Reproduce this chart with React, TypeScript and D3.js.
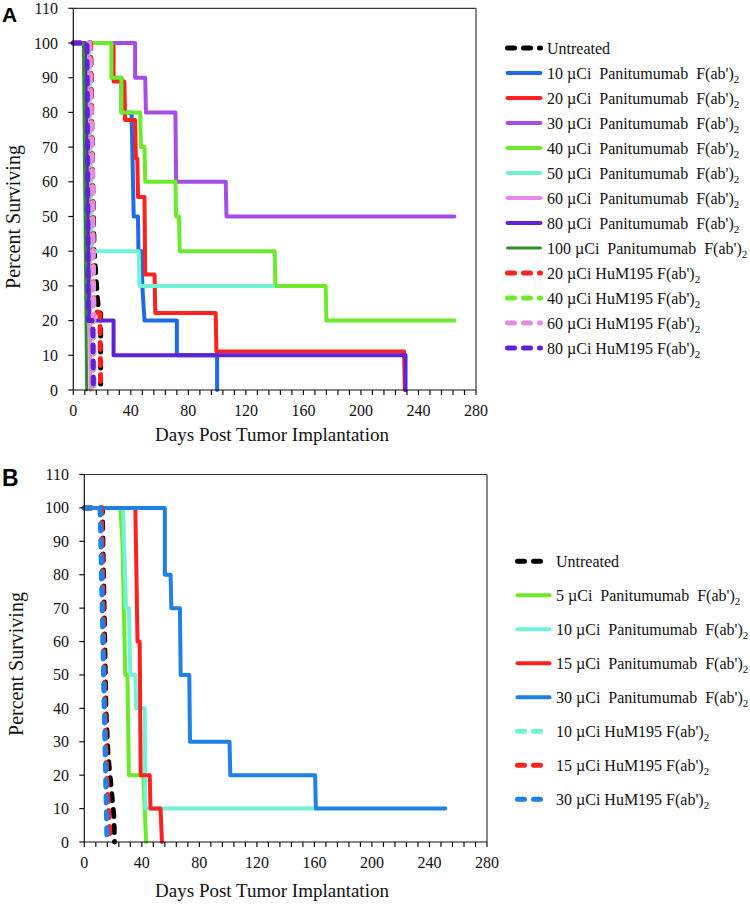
import React from "react";
import * as d3 from "d3";

type Pt = [number, number];

// ---------- shared axis values ----------
const xTickValues = [0, 40, 80, 120, 160, 200, 240, 280];
const xMinorTicks = d3.range(0, 281, 8);
const yTickValues = [0, 10, 20, 30, 40, 50, 60, 70, 80, 90, 100, 110];

// ---------- Panel A data: [day, percent surviving] vertices ----------
const aUntreated: Pt[] = [[0, 100], [12, 100], [13.5, 60], [14.5, 40], [16.5, 28], [17.5, 23], [19, 22], [19, 0]];
const aPan10: Pt[] = [[0, 100], [27.5, 100], [27.5, 90], [33.5, 90], [33.5, 80], [40.5, 80], [42, 50], [45, 50], [45.3, 40], [47.5, 40], [48, 30], [49.5, 20], [72, 20], [72, 10], [100, 10], [100, 0]];
const aPan20: Pt[] = [[0, 100], [28, 100], [28, 88.9], [35.5, 88.9], [36, 77.8], [43, 77.8], [43.5, 66.7], [44.5, 66.7], [45, 55.6], [49.5, 55.6], [50, 33.3], [56.5, 33.3], [57, 22.2], [99, 22.2], [99.5, 11.1], [230, 11.1], [230.5, 0]];
const aPan30: Pt[] = [[0, 100], [43, 100], [43, 90], [50, 90], [50.5, 80], [71, 80], [71.5, 60], [106, 60], [106.5, 50], [265, 50]];
const aPan40: Pt[] = [[0, 100], [26.5, 100], [26.5, 90], [33.5, 90], [33.5, 80], [46.5, 80], [47, 70], [49.5, 70], [50, 60], [71, 60], [71.5, 50], [73.5, 50], [74, 40], [140, 40], [140.5, 30], [175.5, 30], [176, 20], [265, 20]];
const aPan50: Pt[] = [[0, 100], [11, 100], [13, 40], [45.5, 40], [46, 30], [139, 30]];
const aPan60: Pt[] = [[0, 100], [10, 100], [12, 0]];
const aPan80: Pt[] = [[0, 100], [8, 100], [11, 20], [28, 20], [28, 10], [231, 10], [231, 0]];
const aPan100: Pt[] = [[0, 100], [7, 100], [9.3, 0]];
const aHum20: Pt[] = [[0, 100], [12, 100], [13.5, 40], [14.5, 23], [18.5, 22], [19, 0]];
const aHum40: Pt[] = [[0, 100], [11, 100], [13, 50], [14, 0]];
const aHum60: Pt[] = [[0, 100], [11.5, 100], [13.5, 60], [14, 35], [14.5, 0]];
const aHum80: Pt[] = [[0, 100], [9.5, 100], [10.5, 20], [13.5, 20], [14, 0]];

const aLabels = [
  "Untreated",
  "10 µCi  Panitumumab  F(ab')",
  "20 µCi  Panitumumab  F(ab')",
  "30 µCi  Panitumumab  F(ab')",
  "40 µCi  Panitumumab  F(ab')",
  "50 µCi  Panitumumab  F(ab')",
  "60 µCi  Panitumumab  F(ab')",
  "80 µCi  Panitumumab  F(ab')",
  "100 µCi  Panitumumab  F(ab')",
  "20 µCi HuM195 F(ab')",
  "40 µCi HuM195 F(ab')",
  "60 µCi HuM195 F(ab')",
  "80 µCi HuM195 F(ab')",
];

// ---------- Panel B data ----------
const bUntreated: Pt[] = [[0, 100], [12.5, 100], [15, 40], [16.5, 26], [18.5, 17], [20.5, 8], [21, 0]];
const bPan5: Pt[] = [[0, 100], [25, 100], [26.5, 90], [27.5, 70], [28.5, 50], [30, 50], [31, 20], [41, 20], [43, 0]];
const bPan10: Pt[] = [[0, 100], [27, 100], [29, 70], [31, 70], [32, 50], [35.5, 50], [36, 40], [42, 40], [42.5, 10], [161, 10]];
const bPan15: Pt[] = [[0, 100], [35.5, 100], [37, 60], [38.5, 60], [39.2, 20], [45.5, 20], [46, 10], [53, 10], [54, 0]];
const bPan30: Pt[] = [[0, 100], [56, 100], [56, 80], [60, 80], [60.5, 70], [66.5, 70], [67, 50], [73, 50], [73.5, 30], [101, 30], [101.5, 20], [160.5, 20], [161, 10], [251, 10]];
const bHum10: Pt[] = [[0, 100], [11.5, 100], [13, 60], [15, 20], [16, 0]];
const bHum15: Pt[] = [[0, 100], [12, 100], [14, 45], [15.5, 20], [17.5, 5], [18, 0]];
const bHum30: Pt[] = [[0, 100], [11, 100], [15.8, 0]];

const bLabels = [
  "Untreated",
  "5 µCi  Panitumumab  F(ab')",
  "10 µCi  Panitumumab  F(ab')",
  "15 µCi  Panitumumab  F(ab')",
  "30 µCi  Panitumumab  F(ab')",
  "10 µCi HuM195 F(ab')",
  "15 µCi HuM195 F(ab')",
  "30 µCi HuM195 F(ab')",
];

// ---------- styles ----------
const C = {
  black: "#000000",
  blueA: "#1f6be6",
  blueB: "#1f80e8",
  red: "#ff2020",
  violet: "#a64de6",
  green: "#6ceb2b",
  aqua: "#72f2d6",
  orchid: "#e68ae6",
  indigo: "#6022d8",
  darkGreen: "#2f8f2f",
};

type Series = { label: string; data: Pt[]; color: string; dashed: boolean; width: number };

const seriesA: Series[] = [
  { label: aLabels[0], data: aUntreated, color: C.black, dashed: true, width: 5 },
  { label: aLabels[1], data: aPan10, color: C.blueA, dashed: false, width: 4 },
  { label: aLabels[2], data: aPan20, color: C.red, dashed: false, width: 4 },
  { label: aLabels[3], data: aPan30, color: C.violet, dashed: false, width: 4 },
  { label: aLabels[4], data: aPan40, color: C.green, dashed: false, width: 4 },
  { label: aLabels[5], data: aPan50, color: C.aqua, dashed: false, width: 4 },
  { label: aLabels[6], data: aPan60, color: C.orchid, dashed: false, width: 4 },
  { label: aLabels[7], data: aPan80, color: C.indigo, dashed: false, width: 4 },
  { label: aLabels[8], data: aPan100, color: C.darkGreen, dashed: false, width: 3 },
  { label: aLabels[9], data: aHum20, color: C.red, dashed: true, width: 5 },
  { label: aLabels[10], data: aHum40, color: C.green, dashed: true, width: 5 },
  { label: aLabels[11], data: aHum60, color: C.orchid, dashed: true, width: 5 },
  { label: aLabels[12], data: aHum80, color: C.indigo, dashed: true, width: 5 },
];

const seriesB: Series[] = [
  { label: bLabels[0], data: bUntreated, color: C.black, dashed: true, width: 5 },
  { label: bLabels[1], data: bPan5, color: C.green, dashed: false, width: 4 },
  { label: bLabels[2], data: bPan10, color: C.aqua, dashed: false, width: 4 },
  { label: bLabels[3], data: bPan15, color: C.red, dashed: false, width: 4 },
  { label: bLabels[4], data: bPan30, color: C.blueB, dashed: false, width: 4 },
  { label: bLabels[5], data: bHum10, color: C.aqua, dashed: true, width: 5 },
  { label: bLabels[6], data: bHum15, color: C.red, dashed: true, width: 5 },
  { label: bLabels[7], data: bHum30, color: C.blueB, dashed: true, width: 5 },
];

const SERIF = "'Liberation Serif', 'Times New Roman', serif";
const SANS = "'Liberation Sans', Arial, sans-serif";
const DASH = "7 9";

type PanelProps = {
  letter: string;
  letterX: number;
  letterY: number;
  letterSize: number;
  left: number;
  right: number;
  top: number;
  bottom: number;
  series: Series[];
  legendX1: number;
  legendX2: number;
  legendTextX: number;
  legendY0: number;
  legendStep: number;
  yTitleX: number;
  yTitleY: number;
  xTitleX: number;
  xTitleY: number;
  xLabelY: number;
  yLabelX: number;
};

function Panel(p: PanelProps) {
  const x = d3.scaleLinear().domain([0, 280]).range([p.left, p.right]);
  const y = d3.scaleLinear().domain([0, 110]).range([p.bottom, p.top]);
  const line = d3
    .line<Pt>()
    .x((d) => x(d[0]))
    .y((d) => y(d[1]))
    .curve(d3.curveLinear);

  return (
    <g>
      <text x={p.letterX} y={p.letterY} fontFamily={SANS} fontWeight="bold" fontSize={p.letterSize} fill="#000">
        {p.letter}
      </text>

      {/* frame top/right */}
      <line x1={x(0)} x2={x(280)} y1={y(110)} y2={y(110)} stroke="#3a3a3a" strokeWidth={1.2} />
      <line x1={x(280)} x2={x(280)} y1={y(110)} y2={y(0)} stroke="#3a3a3a" strokeWidth={1.2} />

      {/* series */}
      {p.series.map((s, i) => (
        <path
          key={i}
          d={line(s.data) || ""}
          fill="none"
          stroke={s.color}
          strokeWidth={s.width}
          strokeLinecap="round"
          strokeLinejoin="round"
          strokeDasharray={s.dashed ? DASH : undefined}
        />
      ))}

      {/* y axis */}
      <line x1={x(0)} x2={x(0)} y1={y(0)} y2={y(110)} stroke="#111" strokeWidth={1.2} />
      {yTickValues.map((v) => (
        <g key={"y" + v}>
          <line x1={x(0) - 5} x2={x(0)} y1={y(v)} y2={y(v)} stroke="#111" strokeWidth={1.2} />
          <text x={p.yLabelX} y={y(v) + 5.5} textAnchor="end" fontFamily={SERIF} fontSize={16} fill="#111">
            {v}
          </text>
        </g>
      ))}

      {/* x axis */}
      <line x1={x(0)} x2={x(280)} y1={y(0)} y2={y(0)} stroke="#111" strokeWidth={1.2} />
      {xMinorTicks.map((v) => (
        <line key={"xm" + v} x1={x(v)} x2={x(v)} y1={y(0)} y2={y(0) + 5} stroke="#111" strokeWidth={1.2} />
      ))}
      {xTickValues.map((v) => (
        <text key={"xl" + v} x={x(v)} y={p.xLabelY} textAnchor="middle" fontFamily={SERIF} fontSize={16} fill="#111">
          {v}
        </text>
      ))}

      {/* axis titles */}
      <text x={p.xTitleX} y={p.xTitleY} textAnchor="middle" fontFamily={SERIF} fontSize={19} fill="#111">
        Days Post Tumor Implantation
      </text>
      <text
        transform={`translate(${p.yTitleX},${p.yTitleY}) rotate(-90)`}
        textAnchor="middle"
        fontFamily={SERIF}
        fontSize={20}
        fill="#111"
      >
        Percent Surviving
      </text>

      {/* legend */}
      {p.series.map((s, i) => {
        const ly = p.legendY0 + i * p.legendStep;
        const hasSub = s.label.endsWith("F(ab')");
        return (
          <g key={"lg" + i}>
            <line
              x1={p.legendX1}
              x2={p.legendX2}
              y1={ly}
              y2={ly}
              stroke={s.color}
              strokeWidth={s.width}
              strokeLinecap="round"
              strokeDasharray={s.dashed ? DASH : undefined}
            />
            <text
              x={p.legendTextX}
              y={ly + 5.5}
              fontFamily={SERIF}
              fontSize={16}
              fill="#111"
              style={{ whiteSpace: "pre" }}
            >
              {s.label}
              {hasSub ? (
                <tspan fontSize={11} dy={4}>
                  2
                </tspan>
              ) : null}
            </text>
          </g>
        );
      })}
    </g>
  );
}

export default function App() {
  return (
    <svg
      width={750}
      height={905}
      viewBox="0 0 750 905"
      style={{ position: "absolute", left: 0, top: 0, background: "#fff" }}
    >
      <rect x={0} y={0} width={750} height={905} fill="#fff" />
      <Panel
        letter="A"
        letterX={2}
        letterY={22}
        letterSize={21}
        left={73.3}
        right={476}
        top={8.3}
        bottom={390}
        series={seriesA}
        legendX1={507.5}
        legendX2={540.5}
        legendTextX={547}
        legendY0={48}
        legendStep={25}
        yTitleX={19.5}
        yTitleY={217}
        xTitleX={272}
        xTitleY={441}
        xLabelY={416}
        yLabelX={58}
      />
      <Panel
        letter="B"
        letterX={2}
        letterY={485.5}
        letterSize={23}
        left={84.3}
        right={487}
        top={474.5}
        bottom={842}
        series={seriesB}
        legendX1={517.5}
        legendX2={549.5}
        legendTextX={556}
        legendY0={561.3}
        legendStep={34}
        yTitleX={23}
        yTitleY={664}
        xTitleX={272}
        xTitleY={897}
        xLabelY={868}
        yLabelX={69}
      />
    </svg>
  );
}
